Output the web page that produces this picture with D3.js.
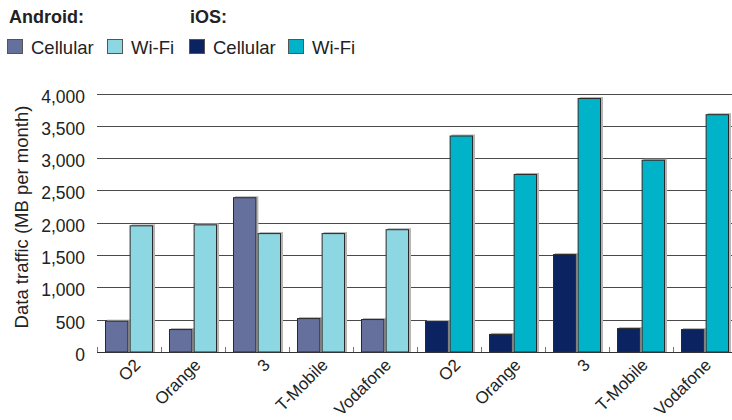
<!DOCTYPE html>
<html>
<head>
<meta charset="utf-8">
<script src="https://cdn.jsdelivr.net/npm/d3@7"></script>
<style>
  body { margin: 0; background: #fff; }
  svg { display: block; font-family: "Liberation Sans", Arial, sans-serif; }
</style>
</head>
<body>
<script>
// operators, repeated once for each platform
var operators = ["O2", "Orange", "3", "T-Mobile", "Vodafone"];
var platforms = ["Android", "iOS"];
var series = ["Cellular", "Wi-Fi"];

// MB per month
var android_cellular = [485, 355, 2395, 525, 510];
var android_wifi = [1960, 1975, 1840, 1840, 1900];
var ios_cellular = [480, 280, 1515, 370, 355];
var ios_wifi = [3350, 2755, 3930, 2975, 3680];

var y_ticks = [0, 500, 1000, 1500, 2000, 2500, 3000, 3500, 4000];

var colors = {
  "Android Cellular": "#66709c",
  "Android Wi-Fi": "#8dd7e3",
  "iOS Cellular": "#0b2461",
  "iOS Wi-Fi": "#00b3c9"
};

var width = 732, height = 420;
var svg = d3.select("body").append("svg").attr("width", width).attr("height", height);

// one row per group
var rows = [];
platforms.forEach(function(p, pi) {
  operators.forEach(function(op, i) {
    var cell = pi === 0 ? android_cellular[i] : ios_cellular[i];
    var wifi = pi === 0 ? android_wifi[i] : ios_wifi[i];
    rows.push({ key: p + "-" + op, label: op, platform: p, Cellular: cell, "Wi-Fi": wifi });
  });
});

var x = d3.scaleBand()
  .domain(rows.map(d => d.key))
  .range([97, 737])
  .paddingInner(0).paddingOuter(0);

var x1 = d3.scaleBand()
  .domain(series)
  .range([8, x.bandwidth() - 8])
  .paddingInner(0.05);

var y = d3.scaleLinear().domain([0, 4000]).range([352, 93.5]);

// gridlines
svg.append("g")
  .selectAll("line")
  .data(y_ticks.slice(1))
  .enter().append("line")
    .attr("x1", 97).attr("x2", width)
    .attr("y1", d => Math.round(y(d)) + 0.5).attr("y2", d => Math.round(y(d)) + 0.5)
    .attr("stroke", "#4a4a4a").attr("stroke-width", 1);

// y tick labels
svg.append("g")
  .selectAll("text")
  .data(y_ticks)
  .enter().append("text")
    .attr("x", 85).attr("y", d => y(d) + 9)
    .attr("text-anchor", "end")
    .attr("font-size", 17.5).attr("fill", "#222")
    .text(d => d3.format(",")(d));

svg.append("text")
  .attr("transform", "translate(28,217) rotate(-90)")
  .attr("text-anchor", "middle")
  .attr("font-size", 18.5).attr("fill", "#222")
  .text("Data traffic (MB per month)");

// bars
var groups = svg.append("g")
  .selectAll("g")
  .data(rows)
  .enter().append("g")
    .attr("transform", d => "translate(" + x(d.key) + ",0)");

var bars = groups.selectAll("g")
  .data(d => series.map(s => ({ s: s, v: d[s], p: d.platform })))
  .enter().append("g");

// soft shadow
bars.append("rect")
  .attr("x", d => x1(d.s) + 2)
  .attr("y", d => y(d.v) - 1)
  .attr("width", x1.bandwidth())
  .attr("height", d => y(0) - y(d.v) + 1)
  .attr("fill", "#b5b5b5");

bars.append("rect")
  .attr("x", d => x1(d.s) + 0.5)
  .attr("y", d => y(d.v) + 0.5)
  .attr("width", x1.bandwidth() - 1)
  .attr("height", d => y(0) - y(d.v) - 0.5)
  .attr("fill", d => colors[d.p + " " + d.s])
  .attr("stroke", "#2a2a2a").attr("stroke-width", 1);

// baseline and ticks at band edges
svg.append("line")
  .attr("x1", 97).attr("x2", width)
  .attr("y1", y(0) + 0.5).attr("y2", y(0) + 0.5)
  .attr("stroke", "#333");

svg.append("g")
  .selectAll("line")
  .data(rows)
  .enter().append("line")
    .attr("x1", d => x(d.key) + 0.5).attr("x2", d => x(d.key) + 0.5)
    .attr("y1", y(0) - 5).attr("y2", y(0))
    .attr("stroke", "#777");

// x labels, rotated; short ones sit a bit further right like the original
svg.append("g")
  .selectAll("text")
  .data(rows)
  .enter().append("text")
    .attr("text-anchor", "end")
    .attr("font-size", 17).attr("fill", "#222")
    .text(d => d.label)
    .attr("transform", function(d) {
      var w = this.getComputedTextLength();
      var cx = x(d.key) + x.bandwidth() / 2 + 15 - 0.11 * w;
      return "translate(" + cx + ",366) rotate(-45)";
    });

// legend
var legend = svg.append("g");
legend.append("text").attr("x", 9).attr("y", 23)
  .attr("font-size", 18).attr("font-weight", "bold").attr("fill", "#222").text("Android:");
legend.append("text").attr("x", 190).attr("y", 23)
  .attr("font-size", 18).attr("font-weight", "bold").attr("fill", "#222").text("iOS:");

var legend_items = [
  { key: "Android Cellular", label: "Cellular", x: 7 },
  { key: "Android Wi-Fi", label: "Wi-Fi", x: 107 },
  { key: "iOS Cellular", label: "Cellular", x: 189 },
  { key: "iOS Wi-Fi", label: "Wi-Fi", x: 288 }
];
var li = legend.selectAll("g.item")
  .data(legend_items)
  .enter().append("g").attr("class", "item");
li.append("rect")
  .attr("x", d => d.x + 0.5).attr("y", 39.5)
  .attr("width", 15).attr("height", 14)
  .attr("fill", d => colors[d.key])
  .attr("stroke", "#555");
li.append("text")
  .attr("x", d => d.x + 24).attr("y", 54)
  .attr("font-size", 18.5).attr("fill", "#222")
  .text(d => d.label);
</script>
</body>
</html>
